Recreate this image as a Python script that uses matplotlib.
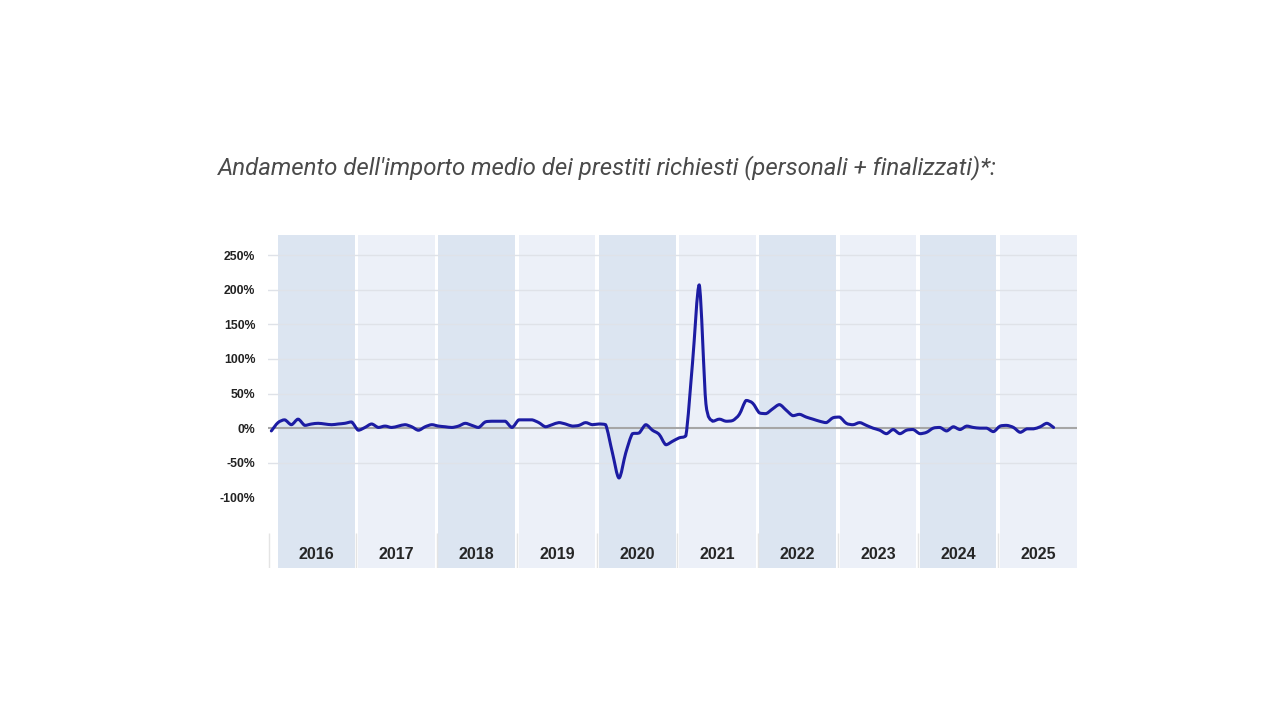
import numpy as np
import matplotlib
matplotlib.use("Agg")
from matplotlib import pyplot as plt
from matplotlib.path import Path
from matplotlib.patches import PathPatch

# month index: 0 = Jan 2016 (first point is Dec 2015)
years = [2016, 2017, 2018, 2019, 2020, 2021, 2022, 2023, 2024, 2025]
months = list(range(-1, 117))
variation = [
    -4,
    8, 12, 5, 13, 4, 6, 7, 6, 5, 6, 7, 9,            # 2016
    -3, 1, 6, 1, 3, 1, 3, 5, 2, -3, 2, 5,            # 2017
    3, 2, 1, 3, 7, 4, 1, 9, 10, 10, 10, 1,           # 2018
    12, 12, 12, 8, 2, 5, 8, 6, 3, 4, 8, 5,           # 2019
    6, 5, -35, -72, -36, -8, -7, 5, -3, -9, -24, -19,  # 2020
    -14, -11, 95, 207, 35, 10, 13, 10, 11, 20, 40, 36,  # 2021
    22, 21, 28, 34, 26, 18, 20, 16, 13, 10, 8, 15,   # 2022
    16, 7, 5, 8, 4, 0, -3, -8, -2, -8, -3, -2,       # 2023
    -8, -6, 0, 1, -4, 2, -2, 3, 1, 0, 0, -5,         # 2024
    3, 4, 1, -6, -1, -1, 2, 7, 1,                    # 2025
]
yticks = [-100, -50, 0, 50, 100, 150, 200, 250]
title = "Andamento dell'importo medio dei prestiti richiesti (personali + finalizzati)*:"

band_dark = "#dce5f1"
band_light = "#ecf0f8"
line_col = "#1c1ca3"


def smooth_path(xs, ys, t=0.15):
    # smoothed line: cubic bezier through every point, no overshoot
    xs = np.asarray(xs, float)
    ys = np.asarray(ys, float)
    n = len(xs)
    verts = [(xs[0], ys[0])]
    codes = [Path.MOVETO]
    for i in range(n - 1):
        p0 = max(i - 1, 0)
        p3 = min(i + 2, n - 1)
        lo, hi = min(ys[i], ys[i + 1]), max(ys[i], ys[i + 1])
        c1y = np.clip(ys[i] + (ys[i + 1] - ys[p0]) * t, lo, hi)
        c2y = np.clip(ys[i + 1] - (ys[p3] - ys[i]) * t, lo, hi)
        c1 = (xs[i] + (xs[i + 1] - xs[p0]) * t, c1y)
        c2 = (xs[i + 1] - (xs[p3] - xs[i]) * t, c2y)
        verts += [c1, c2, (xs[i + 1], ys[i + 1])]
        codes += [Path.CURVE4] * 3
    return Path(verts, codes)


fig = plt.figure(figsize=(12.8, 7.2), dpi=100)
fig.patch.set_facecolor("white")

fig.text(218 / 1280, 1 - 168 / 720, title, ha="left", va="center",
         fontsize=17.3, style="italic", color="#4a4a4a",
         family=["Roboto", "DejaVu Sans"])

ax = fig.add_axes([268 / 1280, 1 - 568 / 720, (1077 - 268) / 1280, (568 - 235) / 720])
ax.set_xlim(-1.5, 119.5)
ax.set_ylim(-202, 279)

band_w = 11.45
for k, yr in enumerate(years):
    col = band_dark if k % 2 == 0 else band_light
    ax.axvspan(12 * k, 12 * k + band_w, color=col, lw=0, zorder=0)
    ax.text(12 * k + band_w / 2, -183, str(yr), ha="center", va="center",
            fontsize=11.5, fontweight="bold", color="#262626",
            family=["Liberation Sans", "DejaVu Sans"])

# faint separators in the year row
seps = [-1.3] + [12 * k - 0.27 for k in range(1, 11)]
ax.vlines(seps, -202, -152, color="#e4e4e4", lw=1, zorder=1)

for t in yticks:
    if t == 0 or t == -100:
        continue
    ax.axhline(t, color="#dfe2e8", lw=1, zorder=1)
ax.axhline(0, color="#a6a6a6", lw=1.5, zorder=2)

ax.add_patch(PathPatch(smooth_path(months, variation), facecolor="none",
                       edgecolor=line_col, lw=2.2, joinstyle="round",
                       capstyle="round", zorder=3))

ax.set_yticks(yticks)
ax.set_yticklabels([f"{t}%" for t in yticks])
for lab in ax.get_yticklabels():
    lab.set_fontweight("bold")
    lab.set_fontsize(8.8)
    lab.set_color("#222222")
    lab.set_family(["Liberation Sans", "DejaVu Sans"])
ax.tick_params(axis="y", length=0, pad=9)
ax.set_xticks([])
for s in ax.spines.values():
    s.set_visible(False)
ax.set_facecolor("white")

fig.savefig("out.png", dpi=100, facecolor="white")
